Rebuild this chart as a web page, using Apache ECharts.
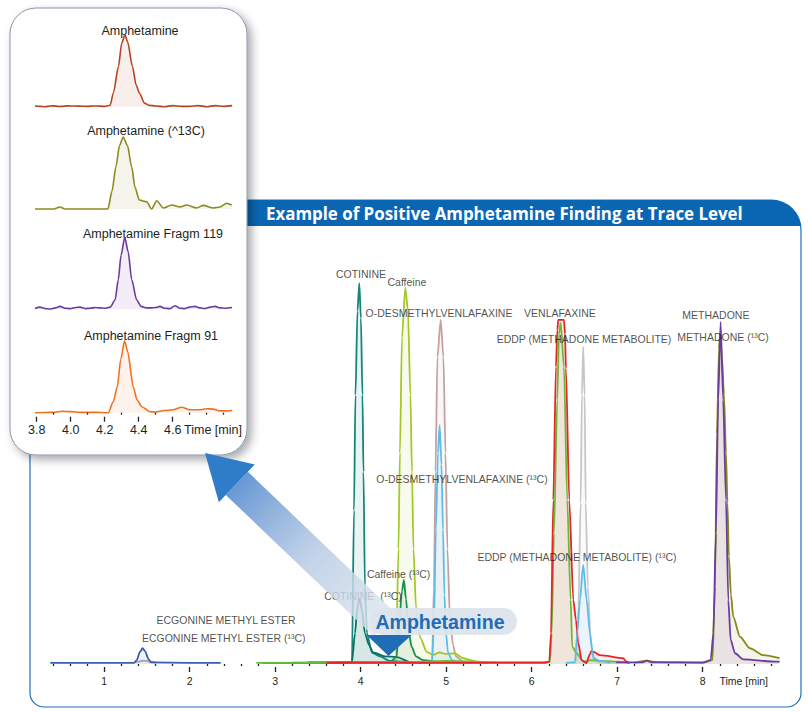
<!DOCTYPE html>
<html>
<head>
<meta charset="utf-8">
<script src="https://cdn.jsdelivr.net/npm/echarts@6/dist/echarts.min.js"></script>
<style>
  html, body { margin: 0; padding: 0; background: #ffffff; }
  #chart { width: 808px; height: 712px; }
</style>
</head>
<body>
<div id="chart"></div>
<script>
// ---------- axis ticks (retention time, min) ----------
const mainMajorTicks = [1, 2, 3, 4, 5, 6, 7, 8];
const mainMinorTicks = [0.4, 0.6, 0.8, 1.2, 1.4, 1.6, 1.8, 2.2, 2.4, 2.6, 2.8, 3.2, 3.4, 3.6, 3.8,
  4.2, 4.4, 4.6, 4.8, 5.2, 5.4, 5.6, 5.8, 6.2, 6.4, 6.6, 6.8, 7.2, 7.4, 7.6, 7.8, 8.2, 8.4, 8.6, 8.8];
const zoomMajorTicks = [3.8, 4.0, 4.2, 4.4, 4.6];
const zoomMinorTicks = [3.9, 4.1, 4.3, 4.5, 4.7, 4.8, 4.9];
const timeUnitMain = 8.48;   // where "Time [min]" sits on the main axis
const timeUnitZoom = 4.837;  // where "Time [min]" sits on the zoom axis

// ---------- main chromatogram traces: [time (min), relative intensity %] ----------
const ecgonine = [[0.37,0.3],[1.0,0.3],[1.35,0.3],[1.38,1],[1.42,3.2],[1.45,4.1],[1.48,3.3],[1.52,1.2],[1.55,0.4],[2.0,0.3],[2.363,0.3]];
const ecgonine13C = [[1.35,0.4],[1.42,0.7],[1.47,0.9],[1.55,0.6],[1.61,0.3]];
const cotinine = [[2.85,0.3],[3.5,0.3],[3.85,0.3],[3.898,0.5],[3.922,40],[3.939,70],[3.963,92],[3.984,99.2],[4.003,90],[4.021,70],[4.033,50],[4.05,20],[4.074,8],[4.132,3],[4.225,2],[4.342,0.8],[4.577,0.3]];
const cotinine13C = [[3.6,0.3],[3.898,0.5],[3.934,8],[3.963,15],[3.987,17],[4.016,14],[4.05,8],[4.097,5],[4.144,3],[4.285,2],[4.425,1.8],[4.577,0.5],[4.81,0.3]];
const caffeine = [[3.2,0.4],[3.9,0.4],[4.413,0.4],[4.442,30],[4.459,55],[4.483,85],[4.522,98],[4.553,92],[4.582,70],[4.6,50],[4.618,30],[4.647,15],[4.694,7],[4.775,3.1],[4.85,2.4],[4.92,3.0],[5.0,2.6],[5.1,2.8],[5.2,1.5],[5.35,0.6],[5.6,0.4]];
const caffeine13C = [[3.38,0.4],[4.343,0.5],[4.421,1.9],[4.448,10],[4.483,19],[4.506,21.9],[4.53,17],[4.565,8],[4.596,4.5],[4.647,2],[4.729,1],[4.93,0.5],[5.3,0.4]];
const odv = [[4.6,0.3],[4.834,0.3],[4.857,20],[4.875,50],[4.898,80],[4.936,89.6],[4.968,80],[4.992,55],[5.015,30],[5.044,12],[5.08,5],[5.115,2],[5.2,0.5],[5.5,0.3]];
const odv13C = [[4.7,0.3],[4.834,0.3],[4.857,10],[4.88,35],[4.904,55],[4.924,62.2],[4.945,52],[4.963,35],[4.98,18],[4.998,8],[5.022,3],[5.068,1],[5.16,0.3]];
const venlafaxine13C = [[2.78,0.3],[3.5,0.3],[4.6,0.5],[5.0,0.8],[5.5,0.5],[6.1,0.5],[6.214,0.6],[6.234,8],[6.261,34],[6.299,68.8],[6.32,86],[6.339,88.9],[6.378,77.4],[6.416,42.7],[6.456,16.7],[6.475,4.5],[6.526,2.8],[6.604,0.6],[6.702,1],[6.799,0.8],[7.15,0.3]];
const venlafaxine = [[3.6,0.3],[5.5,0.3],[6.15,0.3],[6.206,0.6],[6.226,8],[6.253,42.7],[6.284,77.4],[6.30,87],[6.311,89.6],[6.378,89.6],[6.39,86],[6.401,77],[6.44,42.7],[6.487,16.7],[6.518,11.5],[6.545,5.4],[6.585,1],[6.64,0.2],[6.68,2.5],[6.70,3.4],[6.72,3.2],[6.80,2.3],[7.07,1.5],[7.11,0.6],[7.14,0.2]];
const eddp = [[6.40,0.3],[6.518,0.3],[6.547,15],[6.573,42],[6.588,70],[6.603,82.6],[6.62,70],[6.632,42],[6.658,20],[6.693,5],[6.74,1],[6.8,0.3],[7.0,0.3]];
const eddp13C = [[6.4,0.3],[6.506,0.5],[6.533,8],[6.565,16.7],[6.603,25.8],[6.643,16.7],[6.682,8],[6.721,1.5],[6.8,0.8],[6.917,0.3]];
const methadone = [[6.99,0.4],[7.3,0.4],[7.345,0.9],[7.4,0.4],[8.0,0.4],[8.094,1],[8.125,8],[8.155,34],[8.182,68.8],[8.21,89.1],[8.24,68.8],[8.273,42.7],[8.3,16.7],[8.328,6.25],[8.378,2.8],[8.476,1.2],[8.866,0.6],[8.9,0.6]];
const methadone13C = [[7.2,0.3],[7.35,0.9],[7.45,0.5],[8.0,0.3],[8.115,1],[8.144,20],[8.167,60],[8.191,82],[8.203,86.1],[8.226,80],[8.25,70],[8.273,55],[8.29,42],[8.307,28],[8.331,18],[8.358,12.3],[8.436,7.1],[8.553,4.1],[8.709,2.3],[8.9,1.5]];

// ---------- amphetamine zoom traces ----------
const amphetamine = [[3.79,1],[3.82,0.5],[3.85,0],[3.88,1],[3.9,1.2],[3.93,0.3],[3.95,0.5],[3.98,1.2],[4.0,1],[4.05,0.8],[4.1,0.5],[4.13,1],[4.15,1],[4.2,0.5],[4.232,2],[4.251,19],[4.281,56],[4.30,88],[4.319,100],[4.335,90],[4.363,56],[4.385,30],[4.404,19],[4.434,5],[4.46,2],[4.5,1],[4.55,0],[4.6,1.5],[4.65,0.5],[4.7,0.5],[4.75,1.5],[4.8,0],[4.85,1.5],[4.9,0.5],[4.95,1.5]];
const amphetamine13C = [[3.79,0],[3.9,0],[3.937,2.8],[3.966,0],[4.1,0],[4.219,0],[4.243,25],[4.266,58.5],[4.287,88],[4.309,100],[4.334,88],[4.359,58.5],[4.378,30],[4.404,12.4],[4.447,10],[4.476,0],[4.506,11.5],[4.545,1.4],[4.594,5.5],[4.643,2.8],[4.682,5.5],[4.741,1.4],[4.78,5.1],[4.839,1.4],[4.878,2.8],[4.918,7.9],[4.947,5.5]];
const amphetamineFragm119 = [[3.79,1],[3.819,3],[3.85,1],[3.878,0.5],[3.91,2],[3.937,4],[3.966,1.5],[3.996,1],[4.03,2.5],[4.055,3],[4.085,1],[4.114,1.5],[4.145,2.5],[4.172,2],[4.2,1.5],[4.232,3],[4.261,13],[4.28,41],[4.296,75],[4.318,100],[4.338,80],[4.359,41],[4.388,13],[4.414,4],[4.447,2],[4.466,2],[4.5,2.5],[4.525,4],[4.55,1.5],[4.584,1],[4.614,5],[4.64,1.5],[4.672,1],[4.7,3],[4.731,4],[4.76,2],[4.79,1],[4.82,3],[4.849,4],[4.88,2],[4.908,1.5],[4.949,2.5]];
const amphetamineFragm91 = [[3.79,0],[3.85,0.3],[3.9,0.5],[3.95,2],[4.0,1.5],[4.05,0.5],[4.1,0.5],[4.15,0.5],[4.221,0],[4.25,15],[4.274,36],[4.295,75],[4.317,100],[4.335,85],[4.368,36],[4.39,18],[4.418,8.3],[4.466,1.4],[4.5,1],[4.55,3],[4.6,4],[4.653,7.5],[4.7,4],[4.76,4],[4.8,5.5],[4.837,5],[4.88,2.5],[4.95,3]];

// ---------- peak annotations: [time, intensity, text] ----------
const peakLabels = [
  [4.004, 101.6, 'COTININE'],
  [4.541, 99.6, 'Caffeine'],
  [4.916, 91.5, 'O-DESMETHYLVENLAFAXINE'],
  [6.331, 91.4, 'VENLAFAXINE'],
  [6.612, 84.6, 'EDDP (METHADONE METABOLITE)'],
  [8.155, 90.9, 'METHADONE'],
  [8.237, 85.2, 'METHADONE (¹³C)'],
  [5.185, 48.1, 'O-DESMETHYLVENLAFAXINE (¹³C)'],
  [6.53, 27.9, 'EDDP (METHADONE METABOLITE) (¹³C)'],
  [4.444, 23.4, 'Caffeine (¹³C)'],
  [4.027, 17.7, 'COTININE  (¹³C)'],
  [2.425, 11.5, 'ECGONINE METHYL ESTER'],
  [2.398, 6.7, 'ECGONINE METHYL ESTER (¹³C)']
];
const zoomTitles = ['Amphetamine', 'Amphetamine (^13C)', 'Amphetamine Fragm 119', 'Amphetamine Fragm 91'];
const headerTitle = 'Example of Positive Amphetamine Finding at Trace Level';
const calloutText = 'Amphetamine';

// ---------- styling ----------
const FONT = '"Liberation Sans", Arial, Helvetica, sans-serif';
const TEXT = '#231f20';
const BLUE = '#0a66b3';

const chart = echarts.init(document.getElementById('chart'), null, { renderer: 'svg' });

function trace(name, data, color, xi, yi, width) {
  return {
    type: 'line', name, data,
    xAxisIndex: xi, yAxisIndex: yi,
    symbol: 'none', showSymbol: false,
    smooth: 0.25, smoothMonotone: 'x',
    clip: false, silent: true,
    lineStyle: { color, width: width || 1.8 },
    itemStyle: { color },
    areaStyle: { color, opacity: 0.09 }
  };
}

// header bar outline: straight top edge, rounded top-right corner down to the bar's bottom
const headerPts = [[30, 226], [30, 200], [771, 200]];
for (let a = -90; a <= -7.6; a += 4) {
  const r = a * Math.PI / 180;
  headerPts.push([771 + 30 * Math.cos(r), 230 + 30 * Math.sin(r)]);
}
headerPts.push([800.7, 226]);

// geometry of the pointer arrow from the trace peak to the zoom panel
const tip = [205, 453], tail = [385, 625];
const len = Math.hypot(tail[0] - tip[0], tail[1] - tip[1]);
const d = [(tail[0] - tip[0]) / len, (tail[1] - tip[1]) / len];
const n = [d[1], -d[0]];
const headLen = 44, headHalf = 26, shaftHalf = 16;
const M = [tip[0] + d[0] * headLen, tip[1] + d[1] * headLen];
const pt = (p, k) => [p[0] + n[0] * k, p[1] + n[1] * k];

const zoomGrid = { left: 35, width: 197.2, height: 72, outerBoundsMode: 'none', containLabel: false };
const tickStyle = { color: '#222', width: 1.3 };

const option = {
  animation: false,
  backgroundColor: '#ffffff',
  grid: [
    { left: 50.3, width: 729.3, top: 241.6, height: 422.4, outerBoundsMode: 'none', containLabel: false },
    Object.assign({ top: 34.7 }, zoomGrid),
    Object.assign({ top: 137 }, zoomGrid),
    Object.assign({ top: 237.3 }, zoomGrid),
    Object.assign({ top: 340.7 }, zoomGrid)
  ],
  xAxis: [
    { type: 'value', gridIndex: 0, position: 'bottom', min: 0.37, max: 8.9, offset: 5,
      axisLine: { show: false }, splitLine: { show: false }, axisLabel: { show: false },
      axisTick: { show: true, customValues: mainMinorTicks, length: 2, lineStyle: tickStyle } },
    { type: 'value', gridIndex: 0, position: 'bottom', min: 0.37, max: 8.9, offset: 3,
      axisLine: { show: false }, splitLine: { show: false },
      axisTick: { show: true, customValues: mainMajorTicks, length: 5, lineStyle: tickStyle },
      axisLabel: { show: true, customValues: mainMajorTicks.concat([timeUnitMain]), margin: 8,
        fontSize: 10.5, fontFamily: FONT, color: TEXT, hideOverlap: false,
        formatter: v => (v === timeUnitMain ? 'Time [min]' : String(v)) } },
    { type: 'value', gridIndex: 1, position: 'bottom', min: 3.79, max: 4.95, show: false },
    { type: 'value', gridIndex: 2, position: 'bottom', min: 3.79, max: 4.95, show: false },
    { type: 'value', gridIndex: 3, position: 'bottom', min: 3.79, max: 4.95, show: false },
    { type: 'value', gridIndex: 4, position: 'bottom', min: 3.79, max: 4.95, offset: 6, z: 6,
      axisLine: { show: false }, splitLine: { show: false }, axisLabel: { show: false },
      axisTick: { show: true, customValues: zoomMinorTicks, length: 2, lineStyle: tickStyle } },
    { type: 'value', gridIndex: 4, position: 'bottom', min: 3.79, max: 4.95, offset: 4, z: 6,
      axisLine: { show: false }, splitLine: { show: false },
      axisTick: { show: true, customValues: zoomMajorTicks, length: 5, lineStyle: tickStyle },
      axisLabel: { show: true, customValues: zoomMajorTicks.concat([timeUnitZoom]), margin: 7,
        fontSize: 12.5, fontFamily: FONT, color: TEXT, hideOverlap: false,
        formatter: v => (v === timeUnitZoom ? 'Time [min]' : v.toFixed(1)) } }
  ],
  yAxis: [
    { type: 'value', gridIndex: 0, min: 0, max: 110, show: false },
    { type: 'value', gridIndex: 1, min: 0, max: 100, show: false },
    { type: 'value', gridIndex: 2, min: 0, max: 100, show: false },
    { type: 'value', gridIndex: 3, min: 0, max: 100, show: false },
    { type: 'value', gridIndex: 4, min: 0, max: 100, show: false }
  ],
  series: [
    trace('ECGONINE METHYL ESTER (13C)', ecgonine13C, '#a3a3a3', 0, 0),
    trace('ECGONINE METHYL ESTER', ecgonine, '#3b5fb0', 0, 0),
    trace('O-DESMETHYLVENLAFAXINE', odv, '#c4a1a1', 0, 0),
    trace('Caffeine', caffeine, '#a3c927', 0, 0),
    trace('COTININE', cotinine, '#12857c', 0, 0),
    trace('COTININE (13C)', cotinine13C, '#0b6e5f', 0, 0),
    trace('Caffeine (13C)', caffeine13C, '#13904a', 0, 0),
    trace('O-DESMETHYLVENLAFAXINE (13C)', odv13C, '#5cbde8', 0, 0),
    trace('EDDP', eddp, '#c6c6c6', 0, 0),
    trace('VENLAFAXINE (13C)', venlafaxine13C, '#66bb35', 0, 0),
    trace('VENLAFAXINE', venlafaxine, '#e8242a', 0, 0),
    trace('EDDP (13C)', eddp13C, '#5cbde8', 0, 0),
    trace('METHADONE (13C)', methadone13C, '#858a1b', 0, 0),
    trace('METHADONE', methadone, '#6a3c9e', 0, 0),
    {
      type: 'scatter', name: 'labels', xAxisIndex: 0, yAxisIndex: 0, silent: true, z: 4,
      symbolSize: 0.1, itemStyle: { color: 'rgba(0,0,0,0)' },
      data: peakLabels.map(l => ({ value: [l[0], l[1]], label: { formatter: l[2] } })),
      label: { show: true, position: 'inside', fontSize: 10.5, fontFamily: FONT, color: TEXT }
    },
    trace('Amphetamine', amphetamine, '#b3441f', 2, 1, 1.6),
    trace('Amphetamine (13C)', amphetamine13C, '#8a8a1e', 3, 2, 1.6),
    trace('Amphetamine Fragm 119', amphetamineFragm119, '#6a3aa0', 4, 3, 1.6),
    trace('Amphetamine Fragm 91', amphetamineFragm91, '#f07020', 5, 4, 1.6)
  ],
  graphic: { elements: [
    // panel frame and header bar
    { type: 'rect', z: 0, silent: true,
      shape: { x: 30, y: 200, width: 771, height: 507, r: [0, 30, 14, 14] },
      style: { fill: 'none', stroke: '#1c70c2', lineWidth: 1.2 } },
    { type: 'polygon', z: 0, silent: true,
      shape: { points: headerPts },
      style: { fill: BLUE } },
    { type: 'text', z: 1, silent: true, x: 266, y: 213.5,
      style: { text: headerTitle, fill: '#ffffff', fontSize: 16.9, fontWeight: 'bold',
        fontFamily: '"Open Sans", "Liberation Sans", Arial, sans-serif', align: 'left', verticalAlign: 'middle' } },
    // zoom panel card
    { type: 'rect', z: 1, silent: true,
      shape: { x: 10, y: 8, width: 237, height: 447, r: 26 },
      style: { fill: '#ffffff', stroke: '#8596a8', lineWidth: 1,
        shadowBlur: 10, shadowColor: 'rgba(0,0,0,0.35)', shadowOffsetX: 4, shadowOffsetY: 4 } },
    { type: 'text', z: 3, silent: true, x: 140, y: 31,
      style: { text: zoomTitles[0], fill: TEXT, fontSize: 12.5, fontFamily: FONT, align: 'center', verticalAlign: 'middle' } },
    { type: 'text', z: 3, silent: true, x: 146, y: 131,
      style: { text: zoomTitles[1], fill: TEXT, fontSize: 12.5, fontFamily: FONT, align: 'center', verticalAlign: 'middle' } },
    { type: 'text', z: 3, silent: true, x: 153, y: 234,
      style: { text: zoomTitles[2], fill: TEXT, fontSize: 12.5, fontFamily: FONT, align: 'center', verticalAlign: 'middle' } },
    { type: 'text', z: 3, silent: true, x: 151, y: 336,
      style: { text: zoomTitles[3], fill: TEXT, fontSize: 12.5, fontFamily: FONT, align: 'center', verticalAlign: 'middle' } },
    // pointer arrow
    { type: 'polygon', z: 10, silent: true,
      shape: { points: [pt(M, shaftHalf), pt(tail, shaftHalf), pt(tail, -shaftHalf), pt(M, -shaftHalf)] },
      style: { fill: { type: 'linear', x: tail[0], y: tail[1], x2: M[0], y2: M[1], global: true, colorStops: [
        { offset: 0, color: 'rgba(224,230,238,0.8)' },
        { offset: 0.5, color: 'rgba(182,202,228,0.85)' },
        { offset: 1, color: 'rgba(96,146,210,0.95)' }] } } },
    { type: 'polygon', z: 10, silent: true,
      shape: { points: [tip, pt(M, headHalf), pt(M, -headHalf)] },
      style: { fill: '#2f7cc9' } },
    // callout
    { type: 'rect', z: 11, silent: true,
      shape: { x: 370, y: 608, width: 147, height: 27, r: 13.5 },
      style: { fill: 'rgba(220,228,236,0.95)' } },
    { type: 'text', z: 12, silent: true, x: 440, y: 621.5,
      style: { text: calloutText, fill: '#1f6db5', fontSize: 19.5, fontWeight: 'bold', fontFamily: FONT,
        align: 'center', verticalAlign: 'middle' } },
    { type: 'polygon', z: 12, silent: true,
      shape: { points: [[366.7, 635], [411.7, 635], [388.5, 656]] },
      style: { fill: '#1f6db5' } }
  ] }
};

chart.setOption(option);
</script>
</body>
</html>
